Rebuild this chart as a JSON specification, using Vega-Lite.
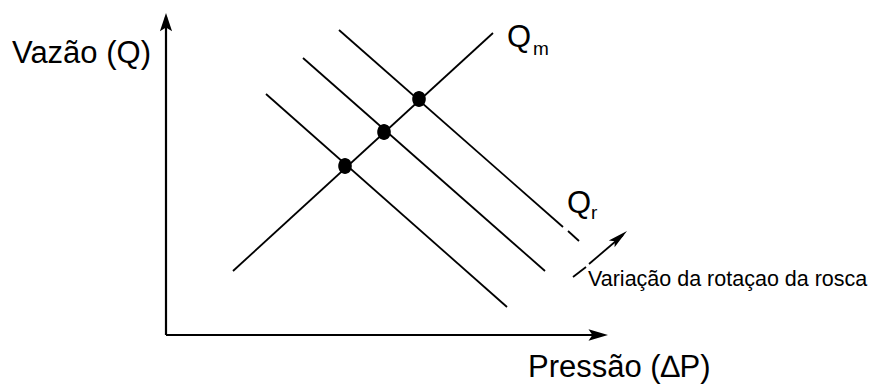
{
  "$schema": "https://vega.github.io/schema/vega-lite/v6.json",
  "width": 870,
  "height": 385,
  "autosize": {"type": "fit", "contains": "padding"},
  "padding": 0,
  "background": "white",
  "config": {"view": {"stroke": null}},
  "encoding": {
    "x": {"field": "p", "type": "quantitative", "scale": {"domain": [-166, 704], "nice": false, "zero": false}, "axis": null},
    "y": {"field": "q", "type": "quantitative", "scale": {"domain": [-50, 335], "nice": false, "zero": false}, "axis": null}
  },
  "layer": [
    {
      "data": {"values": [
        {"name": "eixo Q", "p": 0, "q": 0, "p2": 0, "q2": 318},
        {"name": "eixo P", "p": 0, "q": 0, "p2": 438, "q2": 0}
      ]},
      "mark": {"type": "rule", "color": "black", "strokeWidth": 2.2},
      "encoding": {"x2": {"field": "p2"}, "y2": {"field": "q2"}}
    },
    {
      "data": {"values": [
        {"name": "Qm", "p": 67, "q": 64, "p2": 327, "q2": 302},
        {"name": "Qr1", "p": 100, "q": 241, "p2": 341, "q2": 28},
        {"name": "Qr2", "p": 137, "q": 277, "p2": 379, "q2": 64},
        {"name": "Qr3a", "p": 173, "q": 305, "p2": 397, "q2": 108},
        {"name": "Qr3b", "p": 402, "q": 104, "p2": 413, "q2": 94},
        {"name": "seta a", "p": 407, "q": 58, "p2": 420, "q2": 68},
        {"name": "seta b", "p": 423, "q": 71, "p2": 457, "q2": 100}
      ]},
      "mark": {"type": "rule", "color": "black", "strokeWidth": 1.8},
      "encoding": {"x2": {"field": "p2"}, "y2": {"field": "q2"}}
    },
    {
      "data": {"values": [{"p": 0, "q": 322}]},
      "mark": {"type": "point", "shape": "M0,0 L0.67,2 L0,1.6 L-0.67,2 Z", "size": 330, "angle": 0, "filled": true, "color": "black", "opacity": 1, "strokeWidth": 0}
    },
    {
      "data": {"values": [{"p": 442, "q": 0}]},
      "mark": {"type": "point", "shape": "M0,0 L0.6,2 L0,1.6 L-0.6,2 Z", "size": 380, "angle": 90, "filled": true, "color": "black", "opacity": 1, "strokeWidth": 0}
    },
    {
      "data": {"values": [{"p": 461, "q": 104}]},
      "mark": {"type": "point", "shape": "M0,0 L0.45,2 L0,1.6 L-0.45,2 Z", "size": 400, "angle": 50, "filled": true, "color": "black", "opacity": 1, "strokeWidth": 0}
    },
    {
      "data": {"values": [
        {"p": 179, "q": 169},
        {"p": 218, "q": 203},
        {"p": 253, "q": 236}
      ]},
      "mark": {"type": "point", "shape": "M0,-1 A0.85,1 0 1,1 0,1 A0.85,1 0 1,1 0,-1 Z", "size": 256, "filled": true, "color": "black", "opacity": 1, "strokeWidth": 0}
    },
    {
      "data": {"values": [
        {"label": "Vazão (Q)", "p": -154, "q": 272},
        {"label": "Pressão (∆P)", "p": 362, "q": -42},
        {"label": "Q", "p": 341, "q": 288},
        {"label": "Q", "p": 401, "q": 122}
      ]},
      "mark": {"type": "text", "font": "Liberation Sans", "fontSize": 31, "align": "left", "baseline": "alphabetic", "color": "black"},
      "encoding": {"text": {"field": "label"}}
    },
    {
      "data": {"values": [
        {"label": "m", "p": 367, "q": 280},
        {"label": "r", "p": 425, "q": 116}
      ]},
      "mark": {"type": "text", "font": "Liberation Sans", "fontSize": 19, "align": "left", "baseline": "alphabetic", "color": "black"},
      "encoding": {"text": {"field": "label"}}
    },
    {
      "data": {"values": [
        {"label": "Variação da rotaçao da rosca", "p": 422, "q": 49}
      ]},
      "mark": {"type": "text", "font": "Liberation Sans", "fontSize": 21.5, "align": "left", "baseline": "alphabetic", "color": "black"},
      "encoding": {"text": {"field": "label"}}
    }
  ]
}
